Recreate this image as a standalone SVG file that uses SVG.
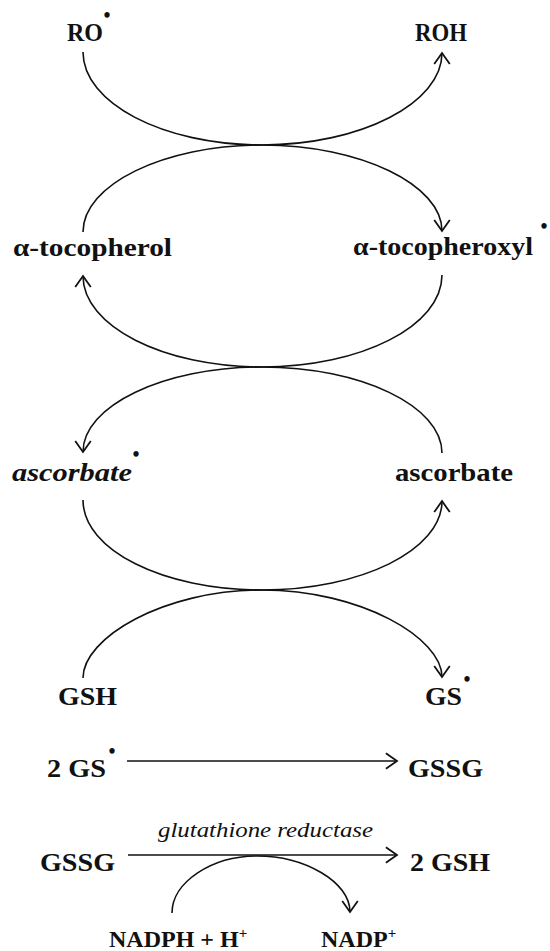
<svg xmlns="http://www.w3.org/2000/svg" width="550" height="951" viewBox="0 0 550 951">
<style>
.lbl{font-family:"Liberation Serif","Times New Roman",serif;font-weight:bold;font-size:25px;fill:#111}
.it{font-style:italic}
.enz{font-family:"Liberation Serif","Times New Roman",serif;font-style:italic;font-size:20px;fill:#111}
.dot{font-family:"Liberation Serif","Times New Roman",serif;font-weight:bold;font-size:20px;fill:#111}
.sup{font-size:15px}
.c{fill:none;stroke:#111;stroke-width:1.6;marker-end:url(#ah)}
</style>
<defs>
<marker id="ah" markerUnits="userSpaceOnUse" markerWidth="20" markerHeight="20" refX="0" refY="0" viewBox="-12 -9 14 18" orient="auto" overflow="visible">
<path d="M-10,-7 L0,0 L-10,7" fill="none" stroke="#111" stroke-width="1.6" stroke-linejoin="miter"/>
</marker>
</defs>
<rect width="550" height="951" fill="#fff"/>
<g id="connectors">
<path class="c" d="M83,52 C83,103 163,145 262,145 C361,145 442,103 442,53"/>
<path class="c" d="M83,232 C83,185 163,145 262,145 C361,145 442,185 442,231"/>
<path class="c" d="M442,275 C442,326 361,367 262,367 C163,367 83,326 83,276"/>
<path class="c" d="M442,453 C442,406 361,367 262,367 C163,367 83,406 83,452"/>
<path class="c" d="M83,500 C83,550 163,590 262,590 C361,590 442,550 442,501"/>
<path class="c" d="M83,678 C83,638 163,590 262,590 C361,590 442,638 442,677"/>
<path class="c" d="M127,761 L397,761"/>
<path class="c" d="M128,855 L397,855"/>
<path class="c" d="M172,913 C172,882 212,856 257,856 C305,856 350,882 350,912"/>
</g>
<g id="n-RO"><text class="lbl" x="67" y="41" textLength="36" lengthAdjust="spacingAndGlyphs">RO</text><text class="dot" x="103.5" y="21.5">•</text></g>
<g id="n-ROH"><text class="lbl" x="415" y="41" textLength="52" lengthAdjust="spacingAndGlyphs">ROH</text></g>
<g id="n-tocopherol"><text class="lbl" x="13" y="256" textLength="159" lengthAdjust="spacingAndGlyphs">α-tocopherol</text></g>
<g id="n-tocopheroxyl"><text class="lbl" x="353" y="255" textLength="180" lengthAdjust="spacingAndGlyphs">α-tocopheroxyl</text><text class="dot" x="540.5" y="233">•</text></g>
<g id="n-ascorbate-radical"><text class="lbl it" x="12" y="481" textLength="120" lengthAdjust="spacingAndGlyphs">ascorbate</text><text class="dot" x="132.5" y="461">•</text></g>
<g id="n-ascorbate"><text class="lbl" x="395" y="481" textLength="118" lengthAdjust="spacingAndGlyphs">ascorbate</text></g>
<g id="n-GSH"><text class="lbl" x="58" y="705" textLength="59" lengthAdjust="spacingAndGlyphs">GSH</text></g>
<g id="n-GS"><text class="lbl" x="425" y="705" textLength="37" lengthAdjust="spacingAndGlyphs">GS</text><text class="dot" x="463.5" y="686">•</text></g>
<g id="n-2GS"><text class="lbl" x="47" y="777" textLength="59" lengthAdjust="spacingAndGlyphs">2 GS</text><text class="dot" x="108.5" y="758">•</text></g>
<g id="n-GSSG-1"><text class="lbl" x="408" y="777" textLength="75" lengthAdjust="spacingAndGlyphs">GSSG</text></g>
<g id="n-enzyme"><text class="enz" x="158" y="837" textLength="215" lengthAdjust="spacingAndGlyphs">glutathione reductase</text></g>
<g id="n-GSSG-2"><text class="lbl" x="40" y="871" textLength="75" lengthAdjust="spacingAndGlyphs">GSSG</text></g>
<g id="n-2GSH"><text class="lbl" x="410" y="871" textLength="80" lengthAdjust="spacingAndGlyphs">2 GSH</text></g>
<g id="n-NADPH"><text class="lbl" x="109" y="947" style="font-size:24px">NADPH + H<tspan class="sup" dy="-9">+</tspan></text></g>
<g id="n-NADP"><text class="lbl" x="321" y="947" style="font-size:24px">NADP<tspan class="sup" dy="-9">+</tspan></text></g>
</svg>
